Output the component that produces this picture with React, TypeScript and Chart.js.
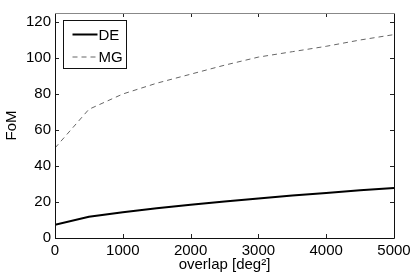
import React, { useEffect, useRef } from "react";
import { Chart, registerables } from "chart.js";

Chart.register(...registerables);

const overlap = [0, 500, 1000, 1500, 2000, 2500, 3000, 3500, 4000, 4500, 5000];
const deValues = [7.3, 11.8, 14.3, 16.5, 18.5, 20.3, 22.0, 23.6, 25.0, 26.5, 27.8];
const mgValues = [50, 71.5, 80, 86, 91, 96, 100.5, 103.5, 106.5, 110, 113];
const xTicks = [0, 1000, 2000, 3000, 4000, 5000];
const yTicks = [0, 20, 40, 60, 80, 100, 120];

const FONT = "Liberation Sans, Arial, Helvetica, sans-serif";

const boxPlugin = {
  id: "boxPlugin",
  afterDraw(chart: any) {
    const { ctx, chartArea } = chart;
    const { left, right, top, bottom } = chartArea;
    const xs = chart.scales.x;
    const ys = chart.scales.y;
    ctx.save();
    ctx.strokeStyle = "#222";
    ctx.lineWidth = 1;
    const tl = 4;
    ctx.beginPath();
    for (const v of xTicks) {
      const px = Math.round(xs.getPixelForValue(v)) + 0.5;
      ctx.moveTo(px, bottom);
      ctx.lineTo(px, bottom - tl);
      ctx.moveTo(px, top);
      ctx.lineTo(px, top + tl);
    }
    for (const v of yTicks) {
      const py = Math.round(ys.getPixelForValue(v)) + 0.5;
      ctx.moveTo(left, py);
      ctx.lineTo(left + tl, py);
      ctx.moveTo(right, py);
      ctx.lineTo(right - tl, py);
    }
    ctx.stroke();
    ctx.strokeStyle = "#111";
    ctx.beginPath();
    ctx.moveTo(Math.round(left) + 0.5, Math.round(top));
    ctx.lineTo(Math.round(left) + 0.5, Math.round(bottom) + 0.5);
    ctx.lineTo(Math.round(right) + 0.5, Math.round(bottom) + 0.5);
    ctx.lineTo(Math.round(right) + 0.5, Math.round(top));
    ctx.stroke();
    ctx.strokeStyle = "#888";
    ctx.beginPath();
    ctx.moveTo(Math.round(left), Math.round(top) + 0.5);
    ctx.lineTo(Math.round(right) + 1, Math.round(top) + 0.5);
    ctx.stroke();

    const lx = left + 8.5;
    const ly = top + 7.5;
    const lw = 63;
    const lh = 48;
    ctx.fillStyle = "#fff";
    ctx.fillRect(lx, ly, lw, lh);
    ctx.strokeStyle = "#111";
    ctx.lineWidth = 1;
    ctx.strokeRect(lx, ly, lw, lh);
    const items = chart.data.datasets;
    ctx.font = "15px " + FONT;
    ctx.textBaseline = "middle";
    ctx.textAlign = "left";
    items.forEach((ds: any, i: number) => {
      const y = ly + 14 + i * 22.5;
      ctx.save();
      ctx.strokeStyle = ds.borderColor;
      ctx.lineWidth = ds.borderWidth;
      ctx.setLineDash(ds.borderDash || []);
      ctx.beginPath();
      ctx.moveTo(lx + 9, y);
      ctx.lineTo(lx + 34, y);
      ctx.stroke();
      ctx.restore();
      ctx.fillStyle = "#000";
      ctx.fillText(ds.label, lx + 35, y + 1);
    });
    ctx.restore();
  },
};

export default function App() {
  const ref = useRef<HTMLCanvasElement | null>(null);
  useEffect(() => {
    if (!ref.current) return;
    const chart = new Chart(ref.current, {
      type: "line",
      data: {
        datasets: [
          {
            label: "DE",
            data: overlap.map((x, i) => ({ x, y: deValues[i] })),
            borderColor: "#000",
            borderWidth: 2,
            pointRadius: 0,
            fill: false,
            tension: 0,
          },
          {
            label: "MG",
            data: overlap.map((x, i) => ({ x, y: mgValues[i] })),
            borderColor: "#666",
            borderWidth: 1,
            borderDash: [5, 4],
            pointRadius: 0,
            fill: false,
            tension: 0,
          },
        ],
      },
      options: {
        responsive: false,
        animation: false,
        layout: { padding: { left: 0, top: 7, right: 21, bottom: 0 } },
        plugins: {
          legend: { display: false },
          tooltip: { enabled: false },
        },
        scales: {
          x: {
            type: "linear",
            min: 0,
            max: 5000,
            afterBuildTicks: (s: any) => {
              s.ticks = xTicks.map((v) => ({ value: v }));
            },
            afterFit: (s: any) => {
              s.height = 39;
            },
            grid: { display: false, drawTicks: false },
            border: { display: false },
            ticks: {
              color: "#000",
              font: { family: FONT, size: 15 },
              padding: 4,
              maxRotation: 0,
              autoSkip: false,
              callback: (v: any) => String(v),
            },
            title: {
              display: true,
              text: "overlap [deg²]",
              color: "#000",
              font: { family: FONT, size: 15 },
              padding: { top: 0, bottom: 3 },
            },
          },
          y: {
            type: "linear",
            min: 0,
            max: 125,
            afterBuildTicks: (s: any) => {
              s.ticks = yTicks.map((v) => ({ value: v }));
            },
            afterFit: (s: any) => {
              s.width = 55;
            },
            grid: { display: false, drawTicks: false },
            border: { display: false },
            ticks: {
              color: "#000",
              font: { family: FONT, size: 15 },
              padding: 4,
              autoSkip: false,
              callback: (v: any) => String(v),
            },
            title: {
              display: true,
              text: "FoM",
              color: "#000",
              font: { family: FONT, size: 15 },
              padding: { top: 3, bottom: 0 },
            },
          },
        },
      },
      plugins: [boxPlugin],
    } as any);
    return () => chart.destroy();
  }, []);
  return (
    <div style={{ position: "absolute", left: 0, top: 0, width: 415, height: 277, background: "#fff" }}>
      <canvas ref={ref} width={415} height={277} style={{ display: "block" }} />
    </div>
  );
}
